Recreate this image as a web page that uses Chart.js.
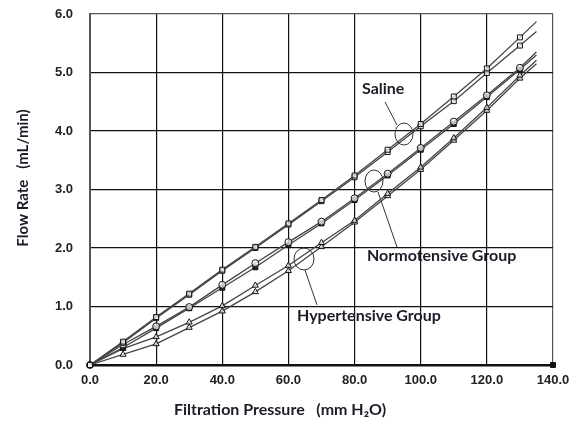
<!DOCTYPE html>
<html>
<head>
<meta charset="utf-8">
<script src="https://cdn.jsdelivr.net/npm/chart.js@4.4.0/dist/chart.umd.min.js"></script>
<style>
  html, body { margin:0; padding:0; background:#fff; }
  #wrap { width:579px; height:421px; }
</style>
</head>
<body>
<div id="wrap"><canvas id="chart" width="579" height="421"></canvas></div>
<script>
// filtration pressure (mm H2O); last point is the end of the fitted line, no marker
const pressure = [0,10,20,30,40,50,60,70,80,90,100,110,120,130,135];

const salineA = [0,0.40,0.82,1.22,1.63,2.02,2.42,2.82,3.24,3.68,4.12,4.59,5.07,5.60,5.87];
const salineB = [0,0.38,0.80,1.20,1.61,2.00,2.40,2.80,3.21,3.64,4.08,4.51,4.99,5.46,5.70];
const normoA  = [0,0.35,0.66,0.99,1.37,1.74,2.10,2.45,2.85,3.27,3.71,4.16,4.61,5.08,5.35];
const normoB  = [0,0.30,0.63,0.97,1.32,1.67,2.05,2.42,2.82,3.24,3.68,4.12,4.58,5.05,5.30];
const hyperA  = [0,0.28,0.48,0.73,1.01,1.36,1.70,2.09,2.47,2.93,3.38,3.88,4.40,4.95,5.21];
const hyperB  = [0,0.18,0.36,0.64,0.92,1.25,1.61,2.02,2.44,2.89,3.34,3.84,4.35,4.90,5.15];

const yTicks = [0,1,2,3,4,5,6];
const xTicks = [0,20,40,60,80,100,120,140];

function pts(ys){
  return ys.map((y,i) => ({x:pressure[i], y:y}));
}

function series(label, ys, style, fill){
  return {
    label: label,
    data: pts(ys),
    showLine: true,
    borderColor: "#444",
    borderWidth: 1.3,
    pointStyle: style,
    pointRadius: ctx => ctx.dataIndex === pressure.length-1 ? 0 : 3.5,
    pointBorderColor: "#111",
    pointBorderWidth: 1,
    pointBackgroundColor: fill,
    tension: 0
  };
}

const notes = [
  {text:"Saline", tx:362, ty:89, cx:404, cy:134, rx:9, ry:11, l:[385,102,397,125]},
  {text:"Normotensive Group", tx:367, ty:256, cx:374, cy:181, rx:9, ry:11, l:[378,192,397,247]},
  {text:"Hypertensive Group", tx:297, ty:316, cx:304, cy:259, rx:10, ry:11, l:[305,270,317,305]}
];

const decor = {
  id:"decor",
  afterDraw(c){
    const g = c.ctx;
    g.save();
    g.fillStyle = "#1c1c28";
    g.textBaseline = "middle";
    g.textAlign = "center";
    g.font = "bold 16px Lato";
    g.fillText("Filtration Pressure   (mm H\u2082O)", 280, 410);
    g.save();
    g.translate(23,178);
    g.rotate(-Math.PI/2);
    g.font = "bold 15px Lato";
    g.fillText("Flow Rate   (mL/min)", 0, 0);
    g.restore();

    g.font = "bold 16px Lato";
    g.textAlign = "left";
    g.strokeStyle = "#333";
    g.lineWidth = 1;
    notes.forEach(n => {
      g.fillText(n.text, n.tx, n.ty);
      g.beginPath();
      g.ellipse(n.cx, n.cy, n.rx, n.ry, 0, 0, Math.PI*2);
      g.stroke();
      g.beginPath();
      g.moveTo(n.l[0], n.l[1]);
      g.lineTo(n.l[2], n.l[3]);
      g.stroke();
    });
    g.restore();
  }
};

const tickFont = {family:"Liberation Sans, Arial", size:13, weight:"bold"};

new Chart(document.getElementById("chart"),{
  type:"scatter",
  data:{
    datasets:[
      series("Saline A", salineA, "rect", "rgba(255,255,255,0.7)"),
      series("Saline B", salineB, "rect", "rgba(255,255,255,0.7)"),
      series("Normotensive A", normoA, "circle", "rgba(255,255,255,0.7)"),
      series("Normotensive B", normoB, "rect", "#222"),
      series("Hypertensive A", hyperA, "triangle", "rgba(255,255,255,0.7)"),
      series("Hypertensive B", hyperB, "triangle", "rgba(255,255,255,0.7)"),
      {
        label:"end",
        data:[{x:140, y:0}],
        pointStyle:"rect",
        pointRadius:3.5,
        pointBackgroundColor:"#111",
        pointBorderColor:"#111"
      }
    ]
  },
  options:{
    responsive:false,
    animation:false,
    clip:false,
    layout:{ padding:{left:0, top:14, right:26, bottom:0} },
    plugins:{ legend:{display:false}, tooltip:{enabled:false} },
    scales:{
      x:{
        type:"linear", min:0, max:140,
        afterBuildTicks: s => { s.ticks = xTicks.map(v => ({value:v})); },
        afterFit: s => { s.height = 56; s.paddingLeft = 0; s.paddingRight = 0; },
        ticks:{ callback: v => v.toFixed(1), color:"#222", font:tickFont, padding:8 },
        grid:{ color: ctx => ctx.index === xTicks.length-1 ? "#555" : "#111", lineWidth:1.2, drawTicks:false },
        border:{ color:"#111", width:2.5 }
      },
      y:{
        type:"linear", min:0, max:6,
        afterBuildTicks: s => { s.ticks = yTicks.map(v => ({value:v})); },
        afterFit: s => { s.width = 90; s.paddingTop = 0; s.paddingBottom = 0; },
        ticks:{ callback: v => v.toFixed(1), color:"#222", font:tickFont, padding:17 },
        grid:{ color: ctx => ctx.index === yTicks.length-1 ? "#555" : "#111", lineWidth:1.2, drawTicks:false },
        border:{ color:"#555", width:2 }
      }
    }
  },
  plugins:[decor]
});
</script>
</body>
</html>
